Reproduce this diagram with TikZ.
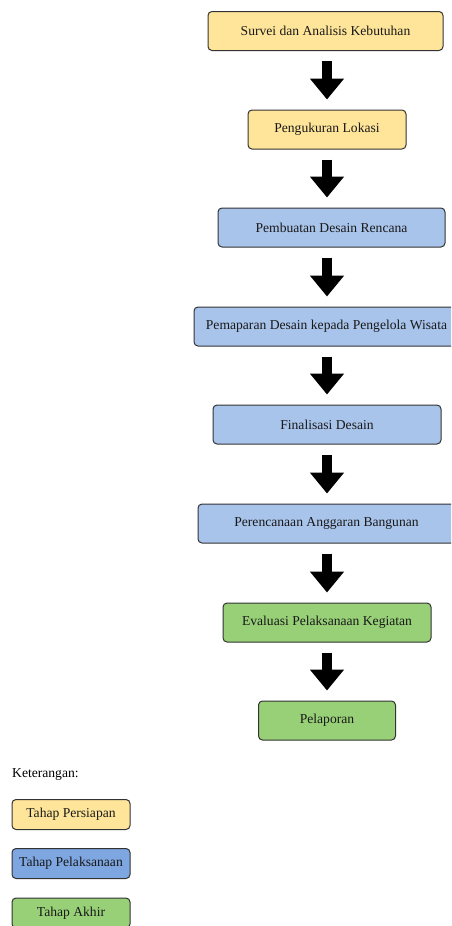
\documentclass[tikz,border=0pt]{standalone}
\usepackage{fontspec}
\setmainfont{Liberation Serif}
\usetikzlibrary{arrows.meta,positioning,calc}
\definecolor{yel}{HTML}{FFE599}
\definecolor{bluL}{HTML}{A9C4EB}
\definecolor{bluD}{HTML}{7EA6E0}
\definecolor{grn}{HTML}{97D077}
\definecolor{bord}{HTML}{333333}
\tikzset{
  box/.style={draw=bord, line width=1pt, rounded corners=4pt, minimum height=39pt,
    inner sep=0pt, font=\fontsize{13.6}{16}\selectfont, text=black!90},
  lbox/.style={box, minimum width=118pt, minimum height=30pt},
  flow/.style={line width=10pt, -{Triangle[width=33pt,length=21pt]}},
}
\begin{document}
\begin{tikzpicture}[x=1pt,y=-1pt]
\useasboundingbox (0,0) rectangle (451,926);
\clip (0,0) rectangle (451,926);
\coordinate (axis) at (327,0);
\node[box, fill=yel, minimum width=235pt] (n1) at (325.5,31) {Survei dan Analisis Kebutuhan};
\node[box, fill=yel, minimum width=158pt] (n2) at (327,129.5) {Pengukuran Lokasi};
\node[box, fill=bluL, minimum width=227pt] (n3) at (331.5,227.5) {Pembuatan Desain Rencana};
\node[box, fill=bluL, minimum width=265pt] (n4) at (326.5,326.5) {Pemaparan Desain kepada Pengelola Wisata};
\node[box, fill=bluL, minimum width=228pt] (n5) at (327,424.5) {Finalisasi Desain};
\node[box, fill=bluL, minimum width=257pt] (n6) at (326.5,523.5) {Perencanaan Anggaran Bangunan};
\node[box, fill=grn, minimum width=208pt] (n7) at (327,622.5) {Evaluasi Pelaksanaan Kegiatan};
\node[box, fill=grn, minimum width=137pt] (n8) at (327,720.5) {Pelaporan};
\foreach \a/\b in {n1/n2,n2/n3,n3/n4,n4/n5,n5/n6,n6/n7,n7/n8}
  \draw[flow] ([yshift=-10pt]\a.south -| axis) -- ([yshift=10pt]\b.north -| axis);
\node[anchor=west, inner sep=0pt, font=\fontsize{13.6}{16}\selectfont] (ket) at (12,775) {Keterangan:};
\node[lbox, fill=yel] (l1) at (71,814.5) {Tahap Persiapan};
\node[lbox, fill=bluD] (l2) at (71,863.5) {Tahap Pelaksanaan};
\node[lbox, fill=grn] (l3) at (71,913) {Tahap Akhir};
\end{tikzpicture}
\end{document}
